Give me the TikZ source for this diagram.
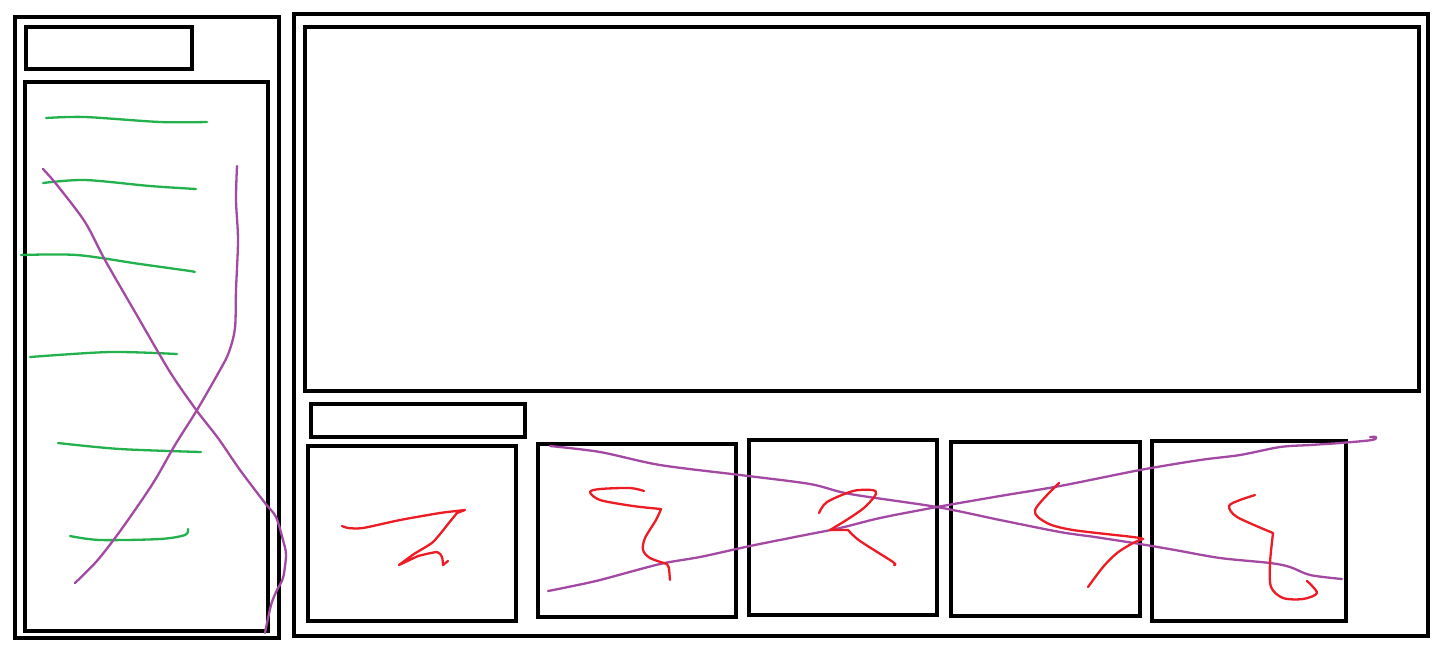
\documentclass[tikz,border=0pt]{standalone}
\definecolor{pgreen}{HTML}{22B14C}
\definecolor{ppurple}{HTML}{A349A4}
\definecolor{pred}{HTML}{ED1C24}
\begin{document}
\begin{tikzpicture}[x=0.5pt,y=-0.5pt,
  frame/.style={draw=black,line width=1.55pt},
  gstroke/.style={draw=pgreen,line width=1.15pt,line cap=round,line join=round},
  pstroke/.style={draw=ppurple,line width=1.15pt,line cap=round,line join=round},
  rstroke/.style={draw=pred,line width=1.15pt,line cap=round,line join=round}]
\useasboundingbox (0,0) rectangle (1443,660);
\fill[white] (0,0) rectangle (1443,660);
% left panel
\draw[frame] (15,17) rectangle (279,638);
\draw[frame] (26,27) rectangle (192,69);
\draw[frame] (25,82) rectangle (268,631);
% right panel
\draw[frame] (294,14) rectangle (1428,636);
\draw[frame] (305,27) rectangle (1419,391);
\draw[frame] (311,404) rectangle (525,437);
\draw[frame] (308,446) rectangle (516,621);
\draw[frame] (538,444) rectangle (736,617);
\draw[frame] (749,440) rectangle (937,615);
\draw[frame] (951,442) rectangle (1140,616);
\draw[frame] (1152,441) rectangle (1346,621);
% green strokes
\draw[gstroke] plot[smooth,tension=0.5] coordinates {(46,118) (85,117) (160,122) (207,122)};
\draw[gstroke] plot[smooth,tension=0.5] coordinates {(43,183) (85,180) (150,186) (196,189)};
\draw[gstroke] plot[smooth,tension=0.5] coordinates {(21,255) (77,255) (140,264) (190,271) (194,272)};
\draw[gstroke] plot[smooth,tension=0.5] coordinates {(30,357) (110,352) (177,354)};
\draw[gstroke] plot[smooth,tension=0.5] coordinates {(58,443) (120,449) (201,452)};
\draw[gstroke] plot[smooth,tension=0.5] coordinates {(70,536) (100,540) (160,539) (185,535) (188,529)};
% purple strokes left
\draw[pstroke] plot[smooth,tension=0.5] coordinates {(43,169) (57,185) (85,222) (105,260) (135,312) (170,372) (197,411) (218,438) (240,470) (265,503) (276,517) (283,540) (286,555) (283,578) (277,590) (271,605) (265,633)};
\draw[pstroke] plot[smooth,tension=0.5] coordinates {(237,166) (236,200) (238,240) (236,290) (235,328) (229,352) (220,370) (197,410) (175,445) (155,480) (135,510) (115,538) (96,562) (75,583)};
% purple strokes thumbnails
\draw[pstroke] plot[smooth,tension=0.5] coordinates {(550,446) (600,452) (660,465) (740,475) (810,484) (850,494) (937,507) (1000,520) (1060,532) (1095,537) (1140,544) (1175,550) (1220,558) (1270,563) (1290,567) (1310,575) (1342,579)};
\draw[pstroke] plot[smooth,tension=0.5] coordinates {(548,591) (568,587) (600,580) (660,564) (700,557) (750,546) (800,536) (840,528) (880,518) (937,507) (1000,496) (1060,486) (1140,470) (1200,460) (1240,455) (1280,447) (1310,445) (1340,443) (1372,440) (1376,437) (1370,437)};
% red squiggles
\draw[rstroke] plot[smooth,tension=0.4] coordinates {(342,526) (348,528) (363,528) (400,520) (440,513) (465,510)} -- (457,513) -- plot[smooth,tension=0.4] coordinates {(448,524) (433,542) (414,554) (399,565)} -- plot[smooth,tension=0.4] coordinates {(418,556) (437,552) (442,557) (443,565)} -- (448,561);
\draw[rstroke] plot[smooth,tension=0.5] coordinates {(644,491) (630,488) (600,489) (590,492) (600,500) (633,506) (661,509)} -- plot[smooth,tension=0.5] coordinates {(661,509) (656,520) (645,538) (643,550) (650,558) (667,564)} -- (669,568) -- (670,580);
\draw[rstroke] plot[smooth,tension=0.5] coordinates {(819,513) (827,502) (853,491) (872,490) (876,494) (865,507) (848,519) (830,530)} -- (848,530) -- plot[smooth,tension=0.5] coordinates {(848,530) (860,541) (893,562) (894,565)};
\draw[rstroke] plot[smooth,tension=0.5] coordinates {(1059,483) (1035,510) (1047,523) (1073,530) (1133,537) (1143,539)} -- plot[smooth,tension=0.5] coordinates {(1143,539) (1133,543) (1117,553) (1103,567) (1088,587)};
\draw[rstroke] plot[smooth,tension=0.5] coordinates {(1255,495) (1240,500) (1229,506) (1237,517) (1273,533)} -- plot[smooth,tension=0.5] coordinates {(1273,533) (1270,563) (1271,587) (1283,598) (1303,599) (1317,593) (1307,581)};
\end{tikzpicture}
\end{document}
